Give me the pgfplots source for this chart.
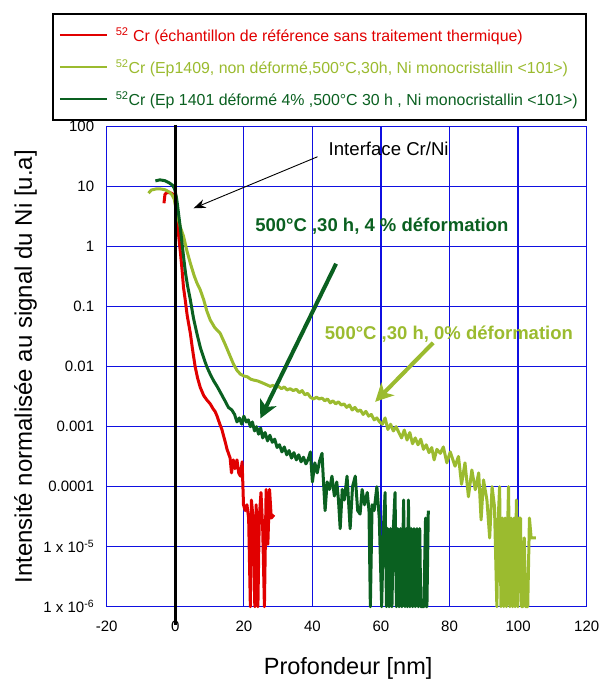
\documentclass[border=0pt]{standalone}
\usepackage{fontspec}
\setmainfont{Liberation Sans}
\usepackage{pgfplots}
\pgfplotsset{compat=1.18}
\usetikzlibrary{arrows.meta}
\definecolor{cRed}{RGB}{225,0,0}
\definecolor{cLight}{RGB}{155,187,47}
\definecolor{cDark}{RGB}{10,96,32}
\definecolor{cGrid}{RGB}{15,15,225}
\begin{document}
\begin{tikzpicture}
\useasboundingbox (0pt,0pt) rectangle (609pt,-680pt);
\begin{axis}[
  at={(106.7pt,-606.7pt)}, anchor=south west,
  scale only axis, width=480pt, height=480pt,
  xmin=-20, xmax=120, ymode=log, ymin=1e-6, ymax=100,
  xtick={-20,0,...,120}, xticklabels={-20,0,20,40,60,80,100,120},
  ytick={1e-6,1e-5,1e-4,1e-3,1e-2,1e-1,1,10,100},
  yticklabels={1 x 10\textsuperscript{-6},1 x 10\textsuperscript{-5},0.0001,0.001,0.01,0.1,1,10,100},
  yminorticks=false,
  major tick length=0pt, minor tick length=0pt,
  grid=major,
  major grid style={cGrid, line width=1.3pt},
  axis line style={cGrid, line width=1.3pt},
  tick label style={font=\fontsize{15}{18}\selectfont},
  yticklabel style={xshift=-9pt},
  xticklabel style={yshift=-11pt},
  xlabel={Profondeur [nm]},
  ylabel={Intensité normalisée au signal du Ni [u.a]},
  xlabel style={font=\fontsize{23.5}{27}\selectfont, at={(axis description cs:0.503,-0.142)}, anchor=base},
  ylabel style={font=\fontsize{24}{28}\selectfont, at={(axis description cs:-0.156,0.5)}, anchor=base},
  clip=false,
  legend image code/.code={\draw[#1, line width=2pt] (0pt,0pt) -- (47pt,0pt);},
  legend cell align=left,
  legend style={at={(-0.114,1.236)}, anchor=north west, draw=black, line width=1.6pt,
    inner xsep=6pt, inner ysep=11pt, row sep=12.5pt,
    font=\fontsize{15.9}{18.8}\selectfont,
    /tikz/every odd column/.append style={column sep=6pt}},
]
\addplot[cRed, line width=3pt, line join=round, no marks] coordinates {
(-3.3,5.3) (-3.0,7.5) (-2.4,8.0) (-1.6,8.0) (-0.8,7.6) (-0.2,6.5) (0.3,4.5) (0.7,2.5) (1.0,1.5) (1.5,0.8) (2.0,0.4) (2.4,0.21) (2.9,0.13) (3.5,0.07) (4.4,0.036) (5.0,0.02) (5.8,0.01) (6.5,0.0065) (7.3,0.0045) (8.3,0.0033) (9.2,0.0028) (10.2,0.0024) (11.0,0.002) (11.6,0.0018) (12.2,0.0015) (13.0,0.0011) (13.6,0.0009) (14.1,0.0007) (14.6,0.00055) (15.1,0.00042) (15.6,0.00035) (16.0,0.0003) (16.4,0.00017) (16.9,0.00028) (17.4,0.0002) (18.0,0.00028) (18.5,0.00017) (19.0,0.00015) (19.5,0.00026) (19.9,0.00005) (20.4,0.00004) (20.9,0.00005) (21.4,0.00003) (21.9,1e-6) (22.2,0.00006) (22.7,0.00003) (23.2,1e-6) (23.6,0.00005) (24.1,1e-6) (24.5,0.00003) (25.0,0.00008) (25.5,0.00002) (26.0,1e-6) (26.5,0.00009) (27.0,0.000011) (27.5,0.00009) (28.0,0.00003) (28.8,0.000034)
};
\addlegendentry{\textcolor{cRed}{\textsuperscript{52} Cr (échantillon de référence sans traitement thermique)}}
\addplot[cLight, line width=3pt, line join=round, no marks] coordinates {
(-7.8,7.8) (-7.0,8.8) (-5.5,9.2) (-4.4,9.2) (-3.0,8.9) (-1.8,8.2) (-1.0,7.4) (-0.3,6.2) (0.3,4.0) (0.8,3.0) (1.5,2.1) (2.4,1.5) (3.4,0.85) (4.4,0.53) (5.5,0.33) (6.3,0.25) (7.3,0.19) (8.3,0.13) (9.2,0.085) (10.2,0.06) (11.5,0.045) (13.1,0.036) (14.5,0.024) (16.0,0.015) (17.0,0.011) (18.0,0.0087) (19.0,0.0075) (20.0,0.007) (21.0,0.0068) (22.0,0.0062) (22.8,0.006) (24.0,0.0058) (25.0,0.0055) (26.0,0.0052) (27.0,0.0049) (27.7,0.0047) (28.5,0.0049) (29.3,0.0045) (30.1,0.0047) (31.0,0.0043) (31.8,0.0046) (32.6,0.0041) (33.5,0.0043) (34.4,0.004) (35.3,0.0042) (36.2,0.0037) (37.0,0.004) (37.8,0.0034) (38.6,0.0036) (39.4,0.0031) (40.3,0.0029) (41.2,0.0031) (42.0,0.0029) (42.8,0.003) (43.6,0.0027) (44.4,0.0029) (45.2,0.0025) (46.0,0.0027) (46.8,0.0024) (47.6,0.0026) (48.4,0.0023) (49.2,0.0024) (50.0,0.0021) (50.8,0.0023) (51.6,0.0019) (52.4,0.0021) (53.2,0.0018) (54.0,0.0019) (54.8,0.0016) (55.6,0.0018) (56.4,0.0015) (57.2,0.0016) (58.0,0.0013) (58.8,0.0014) (59.6,0.0012) (60.4,0.0011) (61.2,0.0014) (62.0,0.0009) (62.8,0.0011) (63.6,0.00085) (64.4,0.001) (65.2,0.0008) (66.0,0.00065) (66.8,0.00088) (67.6,0.0006) (68.4,0.0008) (69.2,0.00052) (70.0,0.00065) (70.8,0.0005) (71.6,0.00062) (72.4,0.00042) (73.2,0.0005) (74.0,0.00037) (74.8,0.00045) (75.5,0.00028) (76.3,0.00042) (77.3,0.00036) (78.2,0.00046) (79.2,0.00025) (80.2,0.00038) (81.6,0.00022) (82.6,0.00032) (83.5,0.00011) (84.5,0.00025) (85.5,0.000068) (86.5,0.00019) (87.5,0.000089) (88.5,0.00017) (89.2,0.000028) (89.9,0.00013) (90.9,0.00006) (91.7,0.000014) (92.4,0.0001) (93.1,0.000047) (93.8,1e-6) (94.2,3e-5) (94.6,1e-4) (95.0,1e-6) (95.4,3e-5) (95.8,1e-6) (96.2,3e-5) (96.6,1e-6) (97.0,3e-5) (97.2,1e-4) (97.6,1e-6) (98.0,3e-5) (98.4,1e-6) (98.8,3e-5) (99.1,1e-6) (99.5,6e-5) (99.9,1e-6) (100.3,3e-5) (100.7,3e-5) (101.0,1e-6) (101.4,1e-6) (101.8,1.4e-5) (102.2,1e-6) (102.8,1e-6) (103.3,3e-5) (103.8,1.4e-5) (105.2,1.4e-5)
};
\addlegendentry{\textcolor{cLight}{\textsuperscript{52}Cr (Ep1409, non déformé,500°C,30h, Ni monocristallin <101>)}}
\addplot[cDark, line width=3pt, line join=round, no marks] coordinates {
(-5.8,12.5) (-4.5,13.0) (-3.0,12.6) (-1.8,11.6) (-0.8,10.6) (-0.2,9.2) (0.3,6.8) (0.6,5.2) (1.0,3.4) (1.5,2.0) (2.0,1.1) (2.5,0.62) (3.0,0.36) (3.6,0.22) (4.4,0.13) (5.3,0.065) (6.3,0.036) (7.3,0.021) (8.3,0.014) (9.2,0.01) (10.2,0.0075) (11.2,0.0058) (12.2,0.0047) (13.2,0.0037) (14.5,0.0027) (15.5,0.0021) (16.5,0.0019) (17.3,0.0016) (18.0,0.0012) (18.7,0.0014) (19.4,0.0011) (20.0,0.0015) (20.7,0.0012) (21.3,0.0013) (21.9,0.001) (22.5,0.0012) (23.1,0.00085) (23.7,0.001) (24.3,0.00075) (24.9,0.00095) (25.5,0.00065) (26.2,0.0008) (26.9,0.00058) (27.6,0.00072) (28.3,0.00055) (29.0,0.00062) (29.7,0.00045) (30.4,0.0005) (31.1,0.00038) (31.8,0.00046) (32.5,0.00034) (33.2,0.0004) (33.9,0.0003) (34.6,0.00037) (35.3,0.00028) (36.0,0.00034) (36.7,0.00026) (37.4,0.00031) (38.1,0.00024) (38.8,0.00029) (39.4,0.00038) (40.0,0.00012) (40.7,0.00025) (41.4,0.00017) (42.1,0.00027) (42.8,0.00036) (43.2,0.00013) (43.7,0.00004) (44.3,0.00012) (45.0,0.00009) (45.7,0.00015) (46.4,0.00007) (47.1,0.00012) (47.6,0.00006) (48.1,0.00002) (48.7,0.00009) (49.3,0.00006) (50.1,0.00015) (50.6,0.00005) (51.0,0.00002) (51.7,0.0001) (52.5,0.00015) (53.2,0.00004) (53.9,0.000035) (54.5,0.00009) (55.2,0.00005) (56.0,0.00008) (56.5,0.00004) (56.9,1e-6) (57.4,0.00005) (58.0,0.00004) (58.8,0.0001) (59.5,0.00003) (60.2,1e-6) (60.7,2e-5) (61.2,8e-5) (61.6,1e-6) (62.0,2e-5) (62.4,1e-6) (62.8,2e-5) (63.2,1e-6) (63.6,2e-5) (64.1,8e-5) (64.5,1e-6) (64.9,2e-5) (65.3,1e-6) (65.7,2e-5) (66.1,1e-6) (66.6,6e-5) (67.0,1e-6) (67.4,2e-5) (67.7,1e-6) (68.0,6e-5) (68.4,1e-6) (68.8,2e-5) (69.2,1e-6) (69.6,2e-5) (70.0,1e-6) (70.5,2e-5) (70.9,1e-6) (71.3,2e-5) (71.6,1e-6) (72.5,1e-6) (73.0,3e-5) (73.2,1e-6) (73.4,1e-6) (73.8,4e-5)
};
\addlegendentry{\textcolor{cDark}{\textsuperscript{52}Cr (Ep 1401 déformé 4\% ,500°C 30 h , Ni monocristallin <101>)}}
\addplot[black, line width=3pt, forget plot] coordinates {(0,107) (0,4.95e-7)};
\draw[-{Stealth[length=12pt,width=9pt]}, line width=0.9pt, black] (axis cs:41.5,31.6) -- (axis cs:5.34,4.37);
\node[anchor=base west, inner sep=0pt, font=\fontsize{18.6}{22}\selectfont] at (axis cs:44.7,32.9) {Interface Cr/Ni};
\draw[-{Stealth[length=18pt,width=18pt,inset=5pt]}, line width=4pt, cDark] (axis cs:46.9,0.52) -- (axis cs:24.8,0.00137);
\draw[-{Stealth[length=18pt,width=18pt,inset=5pt]}, line width=4pt, cLight] (axis cs:75.2,0.025) -- (axis cs:58.3,0.0026);
\node[anchor=base west, inner sep=0pt, text=cDark, font=\fontsize{18.5}{22}\selectfont\bfseries] at (axis cs:23.3,1.778) {500°C ,30 h, 4 \% déformation};
\node[anchor=base west, inner sep=0pt, text=cLight, font=\fontsize{18.5}{22}\selectfont\bfseries] at (axis cs:43.6,0.0279) {500°C ,30 h, 0\% déformation};
\end{axis}
\end{tikzpicture}
\end{document}
